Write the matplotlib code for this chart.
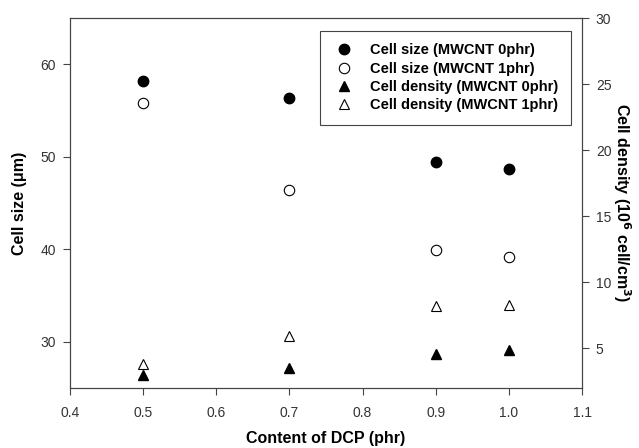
import matplotlib
matplotlib.use("Agg")
import matplotlib.pyplot as plt

plt.rcParams['font.family'] = ['Liberation Sans', 'DejaVu Sans']

# 数据
dcp = [0.5, 0.7, 0.9, 1.0]
size_0phr = [58.2, 56.3, 49.4, 48.7]
size_1phr = [55.8, 46.4, 39.9, 39.2]
density_0phr = [3.0, 3.5, 4.6, 4.9]
density_1phr = [3.8, 5.9, 8.2, 8.3]

fig = plt.figure(figsize=(6.39, 4.48), dpi=100)
ax = fig.add_axes([0.1095, 0.1339, 0.8013, 0.8259])
ax2 = ax.twinx()

h1, = ax.plot(dcp, size_0phr, 'o', color='black', ms=7.5, label='Cell size (MWCNT 0phr)')
h2, = ax.plot(dcp, size_1phr, 'o', mfc='white', mec='black', mew=0.8, ms=7.5, label='Cell size (MWCNT 1phr)')
h3, = ax2.plot(dcp, density_0phr, '^', color='black', ms=7.5, label='Cell density (MWCNT 0phr)')
h4, = ax2.plot(dcp, density_1phr, '^', mfc='white', mec='black', mew=0.8, ms=7.5, label='Cell density (MWCNT 1phr)')

ax.set_xlim(0.4, 1.1)
ax.set_ylim(25, 65)
ax2.set_ylim(2, 30)
ax.set_xticks([0.4, 0.5, 0.6, 0.7, 0.8, 0.9, 1.0, 1.1])
ax.set_yticks([30, 40, 50, 60])
ax2.set_yticks([5, 10, 15, 20, 25, 30])

for a in (ax, ax2):
    a.tick_params(labelsize=10, labelcolor='#333333', direction='out', length=5, width=0.8,
                  color='#444444', pad=5)
    for s in a.spines.values():
        s.set_linewidth(0.8)
        s.set_color('#444444')
ax.tick_params(axis='x', pad=8)

ax.set_xlabel('Content of DCP (phr)', fontsize=11.5, fontweight='bold', labelpad=8)
ax.set_ylabel('Cell size (\u03bcm)', fontsize=11.5, fontweight='bold', labelpad=10)
ax2.set_ylabel('Cell density (10$^{\\mathbf{6}}$ cell/cm$^{\\mathbf{3}}$)', fontsize=11.5,
               fontweight='bold', rotation=270, labelpad=15)

leg = ax.legend(handles=[h1, h2, h3, h4], loc='upper right', bbox_to_anchor=(0.9785, 0.965),
                prop={'weight': 'bold', 'size': 10.5}, fancybox=False,
                edgecolor='#444444', framealpha=1, handlelength=1.6, handletextpad=1.0,
                borderpad=0.85, labelspacing=0.3, borderaxespad=0)
leg.get_frame().set_linewidth(0.8)

plt.savefig('out.png', dpi=100)
